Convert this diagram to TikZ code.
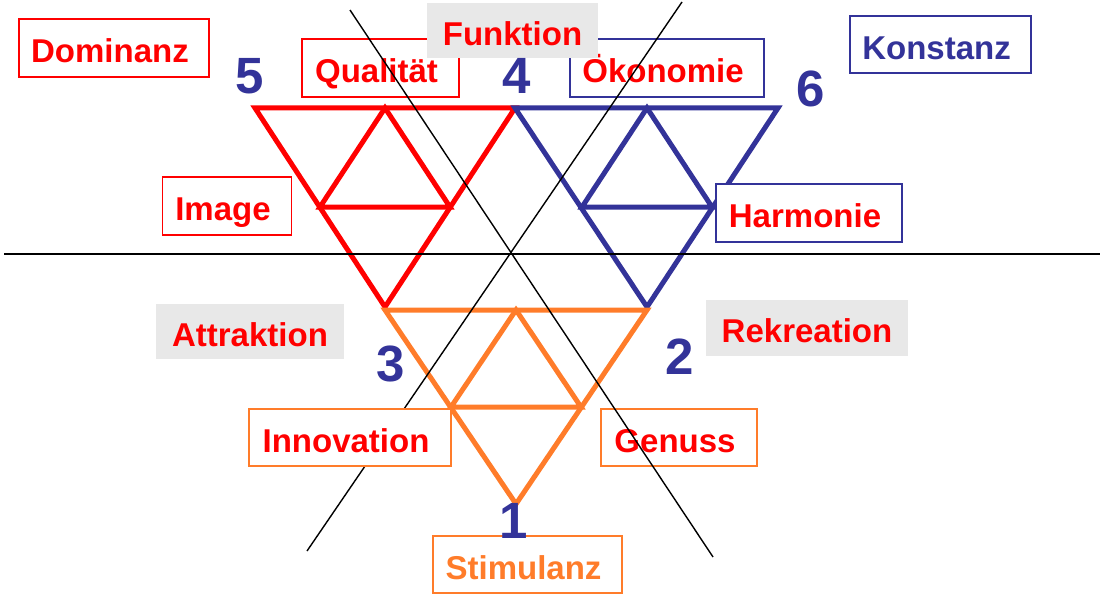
\documentclass[tikz,border=0pt]{standalone}
\usepackage{fontspec}
\setmainfont{Liberation Sans}
\definecolor{cred}{RGB}{255,0,0}
\definecolor{cblue}{RGB}{51,51,153}
\definecolor{corange}{RGB}{255,124,42}
\definecolor{cgray}{RGB}{232,232,232}
\begin{document}
\begin{tikzpicture}[x=1pt,y=-1pt,
  tri/.style={line width=5pt, line join=miter},
  axisline/.style={line width=1.4pt, black},
  lbl/.style={font=\bfseries\fontsize{33}{33}\selectfont, inner sep=0pt, text height=29.6pt, text depth=0pt, fill=white, line width=1.6pt},
  frm/.style={lbl, draw, execute at end node=\hspace{8pt}},
  gry/.style={lbl, fill=cgray},
  num/.style={font=\bfseries\fontsize{51}{51}\selectfont, text=cblue, inner sep=0pt, text height=36.5pt, text depth=0pt},
]
\useasboundingbox (0,0) rectangle (1102,596);

% triangle vertices
\coordinate (R1) at (255,108); \coordinate (R2) at (515,108); \coordinate (R3) at (385,307);
\coordinate (Ra) at (385,108); \coordinate (Rb) at (320,207); \coordinate (Rc) at (450,207);
\coordinate (B1) at (515,108); \coordinate (B2) at (778,108); \coordinate (B3) at (647,307);
\coordinate (Ba) at (647,108); \coordinate (Bb) at (582,207); \coordinate (Bc) at (712,207);
\coordinate (O1) at (385,310); \coordinate (O2) at (647,310); \coordinate (O3) at (516,504);
\coordinate (Oa) at (516,310); \coordinate (Ob) at (451,407); \coordinate (Oc) at (581,407);

\draw[tri, cred] (R1) -- (R2) -- (R3) -- cycle;
\draw[tri, cred] (Ra) -- (Rb) -- (Rc) -- cycle;
\draw[tri, cblue] (B1) -- (B2) -- (B3) -- cycle;
\draw[tri, cblue] (Ba) -- (Bb) -- (Bc) -- cycle;
\draw[tri, corange] (O1) -- (O2) -- (O3) -- cycle;
\draw[tri, corange] (Oa) -- (Ob) -- (Oc) -- cycle;

% labels under the axis lines
\node[frm, draw=cred, text=cred, minimum width=190pt, minimum height=58pt] (dom) at (114,48) {Dominanz};
\node[frm, draw=cred, text=cred, minimum width=157pt, minimum height=58pt] (qual) at (380.5,68) {Qualität};
\node[frm, draw=cblue, text=cred, minimum width=194pt, minimum height=58pt] (oek) at (667,68) {Ökonomie};
\node[frm, draw=cblue, text=cblue, minimum width=181pt, minimum height=57pt] (kon) at (940.5,44.5) {Konstanz};
\node[frm, draw=cred, text=cred, minimum width=129pt, minimum height=58pt] (img) at (227,206) {Image};
\node[gry, text=cred, minimum width=188pt, minimum height=55pt] (attr) at (250,331.5) {Attraktion};
\node[gry, text=cred, minimum width=202pt, minimum height=56pt] (rek) at (807,328) {Rekreation};
\node[frm, draw=corange, text=cred, minimum width=156pt, minimum height=57pt] (gen) at (679,437.5) {Genuss};
\node[frm, draw=corange, text=corange, minimum width=189pt, minimum height=57pt] (stim) at (527.5,564.5) {Stimulanz};

% axis lines
\coordinate (Hl) at (4,254); \coordinate (Hr) at (1100,254);
\coordinate (Atop) at (350,10); \coordinate (Abot) at (713,557);
\coordinate (Btop) at (682,2); \coordinate (Bbot) at (307,551);
\draw[axisline] (Hl) -- (Hr);
\draw[axisline] (Atop) -- (Abot);
\draw[axisline] (Btop) -- (Bbot);

% labels over the axis lines
\node[frm, draw=corange, text=cred, minimum width=202pt, minimum height=57pt] (inno) at (350,437.5) {Innovation};
\node[frm, draw=cblue, text=cred, minimum width=186pt, minimum height=58pt] (harm) at (809,213) {Harmonie};
\node[gry, text=cred, minimum width=171pt, minimum height=55pt] (fkt) at (512.5,30.5) {Funktion};

% numbers
\node[num] (n5) at (250,75) {5};
\node[num] (n4) at (517,75) {4};
\node[num] (n6) at (811,88) {6};
\node[num] (n3) at (391,363) {3};
\node[num] (n2) at (680,356) {2};
\node[num] (n1) at (514,520) {1};
\end{tikzpicture}
\end{document}
